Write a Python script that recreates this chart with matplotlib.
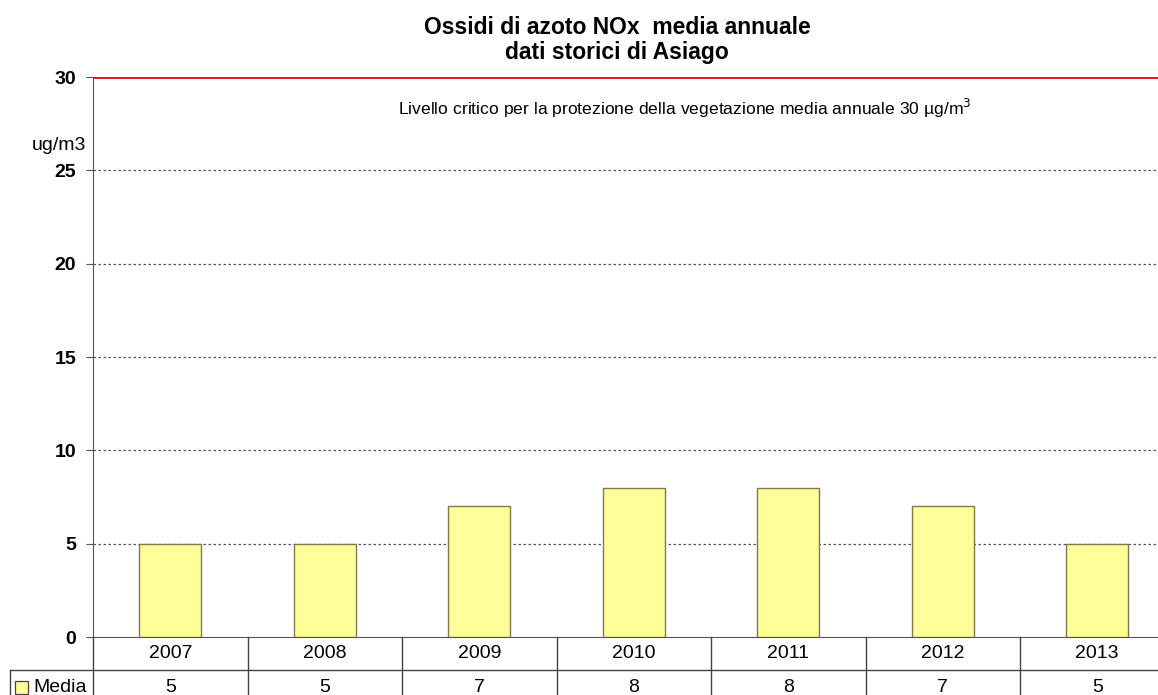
import matplotlib
matplotlib.use("Agg")
import matplotlib.pyplot as plt
from matplotlib.patches import Rectangle
from matplotlib.lines import Line2D

plt.rcParams['font.family'] = ['Liberation Sans', 'DejaVu Sans']

years = ["2007", "2008", "2009", "2010", "2011", "2012", "2013"]
media = [5, 5, 7, 8, 8, 7, 5]
yticks = [0, 5, 10, 15, 20, 25, 30]
limit_value = 30
title = "Ossidi di azoto NOx  media annuale\ndati storici di Asiago"
limit_text = "Livello critico per la protezione della vegetazione media annuale 30 µg/m$^3$"

W, H = 1158, 695
fig = plt.figure(figsize=(W / 100, H / 100), dpi=100)

# plot area in pixel coordinates
x0, x1 = 93, 93 + 7 * 154.5
y_top, y_bot = 77, 637
ax = fig.add_axes([x0 / W, (H - y_bot) / H, (x1 - x0) / W, (y_bot - y_top) / H])

n = len(years)
xs = list(range(n))
ax.bar(xs, media, width=0.4, color="#FFFF99", edgecolor="#7F7850", linewidth=1.0, zorder=3)
ax.set_xlim(-0.5, n - 0.5)
ax.set_ylim(0, 30)

for v in yticks[1:-1]:
    ax.axhline(v, color="#555555", linestyle=(0, (2, 2)), linewidth=0.9, zorder=1)
ax.axhline(limit_value, color="#E02020", linewidth=2.2, zorder=4)

ax.set_yticks(yticks)
ax.set_yticklabels([str(t) for t in yticks], fontsize=14, fontweight="bold")
ax.tick_params(axis="y", length=5, width=0.8, color="#555555", pad=7)
ax.set_xticks([])
for s in ["top", "right"]:
    ax.spines[s].set_visible(False)
ax.spines["left"].set_color("#555555")
ax.spines["bottom"].set_color("#555555")

def fx(px):
    return px / W

def fy(py):
    return 1 - py / H

fig.text(fx(86), fy(145), "ug/m3", fontsize=14, ha="right", va="center")

fig.text(fx(685), fy(108), limit_text, fontsize=12.6, ha="center", va="center")

fig.text(fx(617), fy(27), "Ossidi di azoto NOx  media annuale", fontsize=16.5,
         fontweight="bold", ha="center", va="center")
fig.text(fx(617), fy(53), "dati storici di Asiago", fontsize=16.5,
         fontweight="bold", ha="center", va="center")

# data table below the axis
row1_bot = 670
col_w = 154.5
line_kw = dict(color="#444444", linewidth=1.0, transform=fig.transFigure)
fig.add_artist(Line2D([fx(10), fx(W)], [fy(row1_bot), fy(row1_bot)], **line_kw))
fig.add_artist(Line2D([fx(10), fx(10)], [fy(row1_bot), fy(H)], **line_kw))
fig.add_artist(Line2D([fx(x0), fx(x0)], [fy(y_bot), fy(H)], **line_kw))
for i in range(1, n):
    xp = x0 + i * col_w
    fig.add_artist(Line2D([fx(xp), fx(xp)], [fy(y_bot), fy(H)], **line_kw))

for i, (yr, v) in enumerate(zip(years, media)):
    cx = x0 + (i + 0.5) * col_w
    fig.text(fx(cx), fy(653), yr, fontsize=14, ha="center", va="center")
    fig.text(fx(cx), fy(688), str(v), fontsize=14, ha="center", va="center")

fig.add_artist(Rectangle((fx(15), fy(694)), 13 / W, 13 / H, transform=fig.transFigure,
                         facecolor="#FFFF99", edgecolor="#444444", linewidth=0.9))
fig.text(fx(33), fy(688), "Media", fontsize=14, ha="left", va="center")

fig.savefig("out.png", dpi=100)
